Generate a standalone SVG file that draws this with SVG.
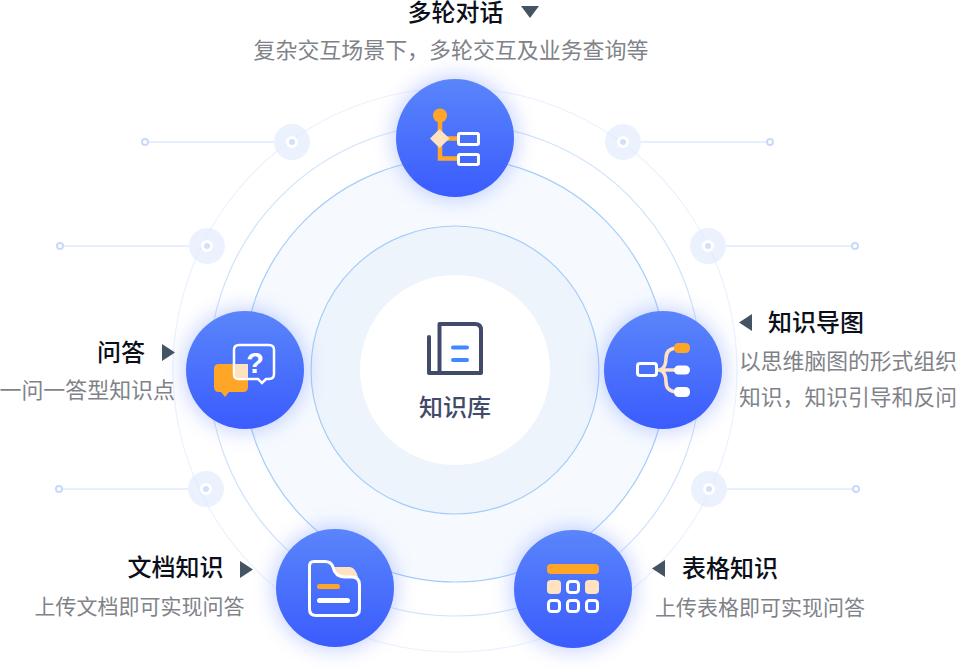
<svg xmlns="http://www.w3.org/2000/svg" width="957" height="668" viewBox="0 0 957 668">
<style>
text{font-family:"Noto Sans CJK SC","Liberation Sans",sans-serif}
.t{font-size:24px;font-weight:500;fill:#0b0f1a}
.s{font-size:21px;fill:#7f8389}
.b{font-size:21.950px}
.r{font-size:21.800px}
.w{fill:none;stroke:#fff;stroke-width:3}
.o{fill:#ffa629}
.c{fill:#ffe2bf}
.l{stroke:#d0e0fc;stroke-width:1.200;fill:none}
.e{fill:#fff;stroke:#c9d9fa;stroke-width:2}
.h{fill:#dbe7fd;fill-opacity:.55}
.m{fill:#455463}
</style>
<defs>
<linearGradient id="g" x1="0" y1="0" x2="0" y2="1"><stop offset="0" stop-color="#5a85fb"/><stop offset="1" stop-color="#3a5cfd"/></linearGradient>
<filter id="f" x="-50%" y="-50%" width="200%" height="200%"><feGaussianBlur stdDeviation="10"/></filter>
<g id="ball"><circle r="62" fill="#7c96ff" opacity=".42" filter="url(#f)"/><circle r="59" fill="url(#g)"/></g>
<g id="dot"><circle r="18" class="h"/><circle r="6" fill="#fff"/><circle r="3" fill="#d3e0fb"/></g>
</defs>
<g id="rings">
<circle cx="455" cy="370" r="282" fill="none" stroke="#e9f2fe" stroke-width="1.200"/>
<circle cx="455" cy="370" r="246" fill="#fff" stroke="#cfe3fc" stroke-width="1.200"/>
<circle cx="455" cy="370" r="212" fill="#f6faff" stroke="#a5cdf9" stroke-width="1.200"/>
<circle cx="455" cy="370" r="144" fill="#eef4fc" stroke="#a5cdf9" stroke-width="1.200"/>
<circle cx="455" cy="370" r="95" fill="#fff"/>
</g>
<g id="connectors">
<path class="l" d="M145 142H274M60 246H189M59 489H188M641 142H770M726 246H855M727 489H856"/>
<circle class="e" cx="145" cy="142" r="3"/><circle class="e" cx="60" cy="246" r="3"/><circle class="e" cx="59" cy="489" r="3"/>
<circle class="e" cx="770" cy="142" r="3"/><circle class="e" cx="855" cy="246" r="3"/><circle class="e" cx="856" cy="489" r="3"/>
<use href="#dot" x="292" y="142"/><use href="#dot" x="207" y="246"/><use href="#dot" x="206" y="489"/>
<use href="#dot" x="623" y="142"/><use href="#dot" x="708" y="246"/><use href="#dot" x="709" y="489"/>
</g>
<g id="center">
<path d="M429 337V373H481V330Q481 324 475 324H439.500V373" fill="none" stroke="#424a6b" stroke-width="4" stroke-linejoin="round" stroke-linecap="round"/>
<path d="M453 347.500H467M453 360H467" stroke="#4287ff" stroke-width="4" stroke-linecap="round"/>
<text x="455" y="416" text-anchor="middle" font-size="24" font-weight="500" fill="#424a6b">知识库</text>
</g>
<g id="node-top">
<use href="#ball" x="455" y="138"/>
<path d="M440 116V158.500H458M440 138.500H458" fill="none" stroke="#ffa629" stroke-width="4.500"/>
<circle class="o" cx="440" cy="115.500" r="7"/>
<path class="c" d="M439.500 129L449.500 138.500L439.500 148L430 138.500Z"/>
<rect class="w" x="458.500" y="133.500" width="20" height="11" rx="1.500"/>
<rect class="w" x="458.500" y="154.500" width="20" height="10" rx="1.500"/>
<text class="t" x="407.500" y="21">多轮对话</text>
<path class="m" d="M521 6H539L530 18Z"/>
<text class="s b" x="253.500" y="58">复杂交互场景下，多轮交互及业务查询等</text>
</g>
<g id="node-right">
<use href="#ball" x="663" y="370"/>
<path d="M658 370H678M660 370Q666 368 666 358Q666 348 678 348M660 370Q666 372 666 382Q666 392 678 392" fill="none" stroke="#ffe2bf" stroke-width="3.500"/>
<rect class="w" x="637.500" y="363.500" width="19" height="12" rx="2.500"/>
<rect class="o" x="674" y="343" width="16" height="10" rx="4.500"/>
<rect x="674" y="365.500" width="16" height="9" rx="4.500" fill="#fff"/>
<rect x="674" y="387" width="16" height="10" rx="4.500" fill="#fff"/>
<path class="m" d="M752 314V331L739 322.500Z"/>
<text class="t" x="768" y="331">知识导图</text>
<text class="s r" x="739" y="369">以思维脑图的形式组织</text>
<text class="s r" x="739" y="405">知识，知识引导和反问</text>
</g>
<g id="node-bottom-right">
<use href="#ball" x="573" y="589"/>
<rect class="o" x="547" y="564" width="52" height="10" rx="4"/>
<rect class="c" x="547" y="580" width="14" height="14" rx="4"/>
<rect class="w" x="567.500" y="581.500" width="11" height="11" rx="3"/>
<rect class="c" x="585" y="580" width="14" height="14" rx="4"/>
<rect class="w" x="548.500" y="600.500" width="11" height="11" rx="3"/>
<rect class="w" x="567.500" y="600.500" width="11" height="11" rx="3"/>
<rect class="w" x="586.500" y="600.500" width="11" height="11" rx="3"/>
<path class="m" d="M665 560V577L652 568.500Z"/>
<text class="t" x="682" y="577">表格知识</text>
<text class="s" x="655" y="615">上传表格即可实现问答</text>
</g>
<g id="node-bottom-left">
<use href="#ball" x="335" y="588"/>
<path class="c" d="M332 567H350Q355 567 358 577H338Z"/>
<path d="M314 561.500H325Q331 561.500 333 567Q335 577 345 577H352Q359.500 577 359.500 585V609Q359.500 615.500 353 615.500H316Q309.500 615.500 309.500 609V566Q309.500 561.500 314 561.500Z" fill="none" stroke="#fff" stroke-width="3"/>
<rect class="o" x="317" y="584" width="23" height="5" rx="2.500"/>
<rect x="317" y="598" width="33" height="5" rx="2.500" fill="#fff"/>
<text class="t" x="127.500" y="576">文档知识</text>
<path class="m" d="M240 561V578L253 569.500Z"/>
<text class="s" x="34.500" y="614">上传文档即可实现问答</text>
</g>
<g id="node-left">
<use href="#ball" x="245" y="370"/>
<path class="o" d="M219 364H243Q248 364 248 369V387Q248 392 243 392H229L225 397L221 392H219Q214 392 214 387V369Q214 364 219 364Z"/>
<path d="M239 345H269Q274 345 274 350V374Q274 379 269 379H266L262 383L258 379H239Q234 379 234 374V350Q234 345 239 345Z" fill="none" stroke="#fff" stroke-width="2.500"/>
<path d="M235 364H248V378H239Q235 378 235 374Z" fill="#ffe2bf"/>
<text x="255" y="373" text-anchor="middle" font-size="29" font-weight="700" fill="#fff" style="font-family:'Liberation Sans',sans-serif">?</text>
<text class="t" x="97" y="361">问答</text>
<path class="m" d="M162 344V361L175 352.500Z"/>
<text class="s b" x="175" y="398" text-anchor="end">一问一答型知识点</text>
</g>
</svg>
